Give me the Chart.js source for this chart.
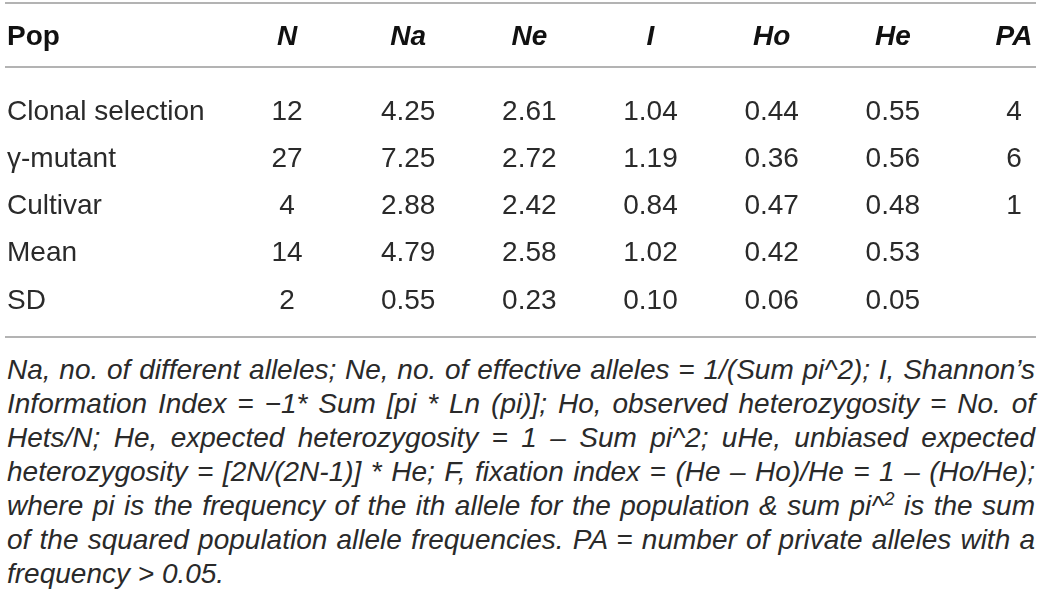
<!DOCTYPE html>
<html>
<head>
<meta charset="utf-8">
<script src="https://cdn.jsdelivr.net/npm/chart.js@4"></script>
<style>
html, body { margin: 0; padding: 0; background: #fff; }
body { width: 1043px; height: 611px; overflow: hidden; font-family: "Liberation Sans", Arial, sans-serif; }
#box { position: relative; width: 1043px; height: 345px; }
#note { position: absolute; left: 7px; top: 353px; width: 1028px; font-style: italic; font-size: 28px; line-height: 34px; color: #2a2a2a; }
#note div { white-space: nowrap; }
#note sup { font-size: 18px; line-height: 0; vertical-align: 10px; }
</style>
</head>
<body>
<div id="box"><canvas id="tbl"></canvas></div>
<div id="note"></div>
<script>
// TABLE CONTENT.
const popHeader = "Pop";
const columns = ["N", "Na", "Ne", "I", "Ho", "He", "PA"];
const rows = ["Clonal selection", "γ-mutant", "Cultivar", "Mean", "SD"];
const nValues = [12, 27, 4, 14, 2];
const naValues = [4.25, 7.25, 2.88, 4.79, 0.55];
const neValues = [2.61, 2.72, 2.42, 2.58, 0.23];
const iValues = [1.04, 1.19, 0.84, 1.02, 0.10];
const hoValues = [0.44, 0.36, 0.47, 0.42, 0.06];
const heValues = [0.55, 0.56, 0.48, 0.53, 0.05];
const paValues = [4, 6, 1, null, null];
const decimals = [0, 2, 2, 2, 2, 2, 0];
const noteLines = [
	"Na, no. of different alleles; Ne, no. of effective alleles = 1/(Sum pi^2); I, Shannon’s",
	"Information Index = −1* Sum [pi * Ln (pi)]; Ho, observed heterozygosity = No. of",
	"Hets/N; He, expected heterozygosity = 1 – Sum pi^2; uHe, unbiased expected",
	"heterozygosity = [2N/(2N-1)] * He; F, fixation index = (He – Ho)/He = 1 – (Ho/He);",
	"where pi is the frequency of the ith allele for the population &amp; sum pi^<sup>2</sup> is the sum",
	"of the squared population allele frequencies. PA = number of private alleles with a",
	"frequency &gt; 0.05.",
];

const cellColumns = [nValues, naValues, neValues, iValues, hoValues, heValues, paValues];

// ONE POINT PER CELL, PLACED BY THE CATEGORY SCALES.
const datasets = columns.map((col, c) => ({
	label: col,
	data: rows
		.map((r, i) => ({ x: col, y: r, v: cellColumns[c][i] }))
		.filter((d) => d.v !== null),
	showLine: false,
	pointRadius: 0,
	pointHoverRadius: 0,
}));

// DRAWS RULES, HEADERS, ROW NAMES AND CELL TEXT.
const tablePlugin = {
	id: "tableCells",
	afterDatasetsDraw(chart, args, opts) {
		const { ctx, chartArea, scales } = chart;
		ctx.save();
		ctx.strokeStyle = opts.ruleColor;
		ctx.lineWidth = opts.ruleWidth;
		const ruleYs = [
			chartArea.top - opts.topRuleGap,
			chartArea.top - opts.headRuleGap,
			chartArea.bottom + opts.bottomRuleGap,
		];
		ruleYs.forEach((ry) => {
			ctx.beginPath();
			ctx.moveTo(opts.ruleLeft, ry);
			ctx.lineTo(opts.ruleRight, ry);
			ctx.stroke();
		});

		ctx.textBaseline = "middle";
		const headY = chartArea.top - opts.headTextGap;
		ctx.fillStyle = opts.headColor;
		ctx.font = "bold " + opts.fontSize + "px 'Liberation Sans'";
		ctx.textAlign = "left";
		ctx.fillText(popHeader, opts.textLeft, headY);
		ctx.font = "italic bold " + opts.fontSize + "px 'Liberation Sans'";
		ctx.textAlign = "center";
		columns.forEach((col, c) => {
			ctx.fillText(col, scales.x.getPixelForValue(c), headY);
		});

		ctx.fillStyle = opts.cellColor;
		ctx.font = opts.fontSize + "px 'Liberation Sans'";
		ctx.textAlign = "left";
		rows.forEach((r, i) => {
			ctx.fillText(r, opts.textLeft, scales.y.getPixelForValue(i));
		});
		ctx.textAlign = "center";
		chart.data.datasets.forEach((ds, c) => {
			const meta = chart.getDatasetMeta(c);
			meta.data.forEach((pt, i) => {
				ctx.fillText(ds.data[i].v.toFixed(decimals[c]), pt.x, pt.y);
			});
		});
		ctx.restore();
	},
};

const ctx = document.getElementById("tbl").getContext("2d");
const tableChart = new Chart(ctx, {
	type: "line",
	data: { datasets: datasets },
	options: {
		responsive: true,
		maintainAspectRatio: false,
		animation: false,
		events: [],
		layout: { autoPadding: false, padding: { left: 287, right: 29, top: 112, bottom: 44 } },
		scales: {
			x: { type: "category", labels: columns, offset: false, display: false },
			y: { type: "category", labels: rows, offset: false, display: false },
		},
		plugins: {
			legend: { display: false },
			tooltip: { enabled: false },
			tableCells: {
				fontSize: 28,
				textLeft: 7,
				headColor: "#111",
				cellColor: "#2a2a2a",
				ruleColor: "#9a9a9a",
				ruleWidth: 1.5,
				ruleLeft: 5,
				ruleRight: 1036,
				topRuleGap: 109,
				headRuleGap: 45,
				headTextGap: 75,
				bottomRuleGap: 36,
			},
		},
	},
	plugins: [tablePlugin],
});

// FOOTNOTE: EACH LINE IS STRETCHED TO THE FULL WIDTH EXCEPT THE LAST.
const note = document.getElementById("note");
noteLines.forEach((line, i) => {
	const div = document.createElement("div");
	const span = document.createElement("span");
	span.innerHTML = line;
	div.appendChild(span);
	note.appendChild(div);
	if (i < noteLines.length - 1) {
		const spaces = (span.textContent.match(/ /g) || []).length;
		const extra = note.clientWidth - span.getBoundingClientRect().width;
		span.style.wordSpacing = extra / spaces + "px";
	}
});
</script>
</body>
</html>
